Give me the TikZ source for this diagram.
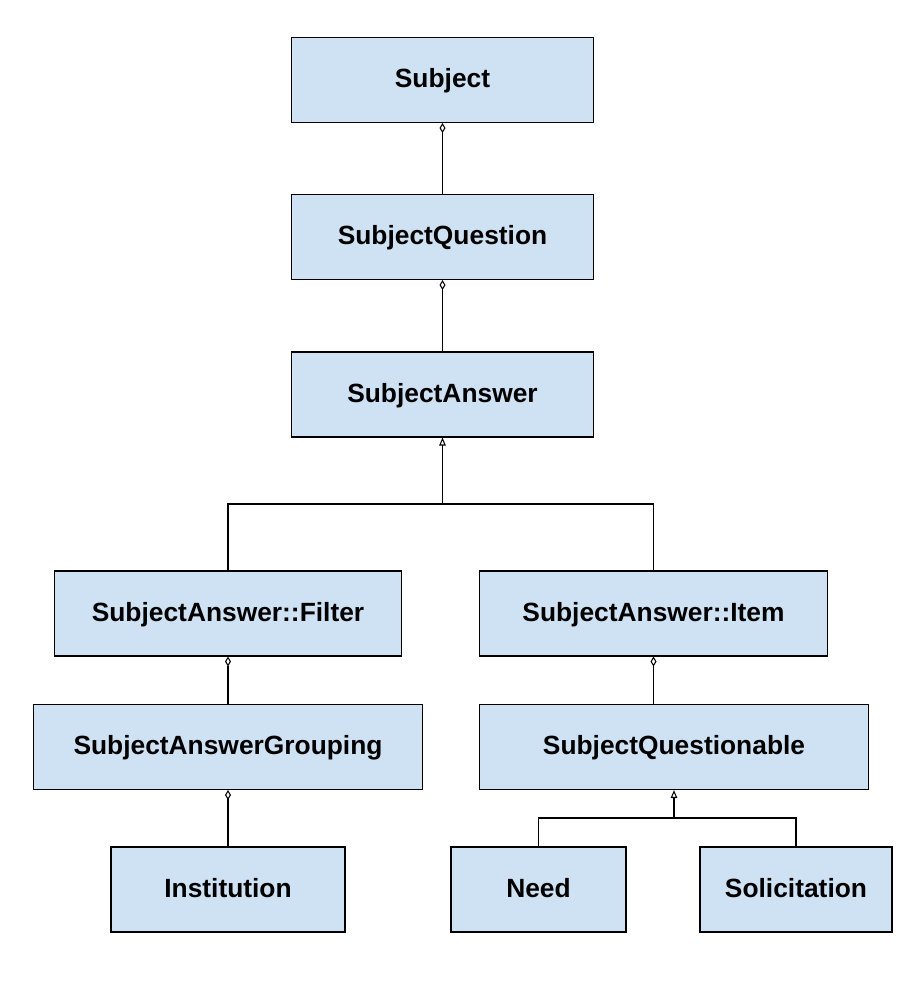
\documentclass[tikz,border=0pt]{standalone}
\usepackage{fontspec}
\setmainfont{Liberation Sans}
\usetikzlibrary{arrows.meta}
\definecolor{boxblue}{HTML}{CFE2F3}
\tikzset{
  cls/.style={draw, fill=boxblue, line width=0.6pt, minimum height=1.7cm,
    inner sep=0pt, text height=9pt, text depth=0pt,
    font=\fontsize{15}{18}\selectfont\bfseries},
  aggr/.style={line width=0.6pt, {Diamond[open, length=2mm, width=1.2mm]}-},
  inh/.style={line width=0.6pt, {Triangle[open, length=1.6mm, width=1.3mm]}-},
  wire/.style={line width=0.6pt}
}
\begin{document}
\begin{tikzpicture}[x=0.02cm, y=-0.02cm]
        \useasboundingbox (0,0) rectangle (912,992);

        \node[cls, minimum width=6.06cm] (subject) at (442.5,80) {Subject};
        \node[cls, minimum width=6.06cm] (question) at (442.5,237) {SubjectQuestion};
        \node[cls, minimum width=6.06cm] (answer) at (442.5,394.5) {SubjectAnswer};
        \node[cls, minimum width=6.96cm] (filter) at (228,613.5) {SubjectAnswer::Filter};
        \node[cls, minimum width=6.98cm] (item) at (653.5,613.5) {SubjectAnswer::Item};
        \node[cls, minimum width=7.8cm] (grouping) at (228,747) {SubjectAnswerGrouping};
        \node[cls, minimum width=7.8cm] (questionable) at (674,747) {SubjectQuestionable};
        \node[cls, minimum width=4.68cm] (institution) at (228,889.5) {Institution};
        \node[cls, minimum width=3.5cm] (need) at (538.5,889.5) {Need};
        \node[cls, minimum width=3.84cm] (solicitation) at (796,889.5) {Solicitation};

        \coordinate (split1) at (442.5,504);
        \coordinate (split2) at (674,818);

        \draw[aggr] (subject) -- (question);
        \draw[aggr] (question) -- (answer);
        \draw[aggr] (filter) -- (grouping);
        \draw[aggr] (item.south) -- (item.south |- questionable.north);
        \draw[aggr] (grouping) -- (institution);

        \draw[inh] (answer) -- (split1);
        \draw[wire] (filter) |- (split1) -| (item);
        \draw[inh] (questionable) -- (split2);
        \draw[wire] (need) |- (split2) -| (solicitation);
      \end{tikzpicture}
\end{document}
